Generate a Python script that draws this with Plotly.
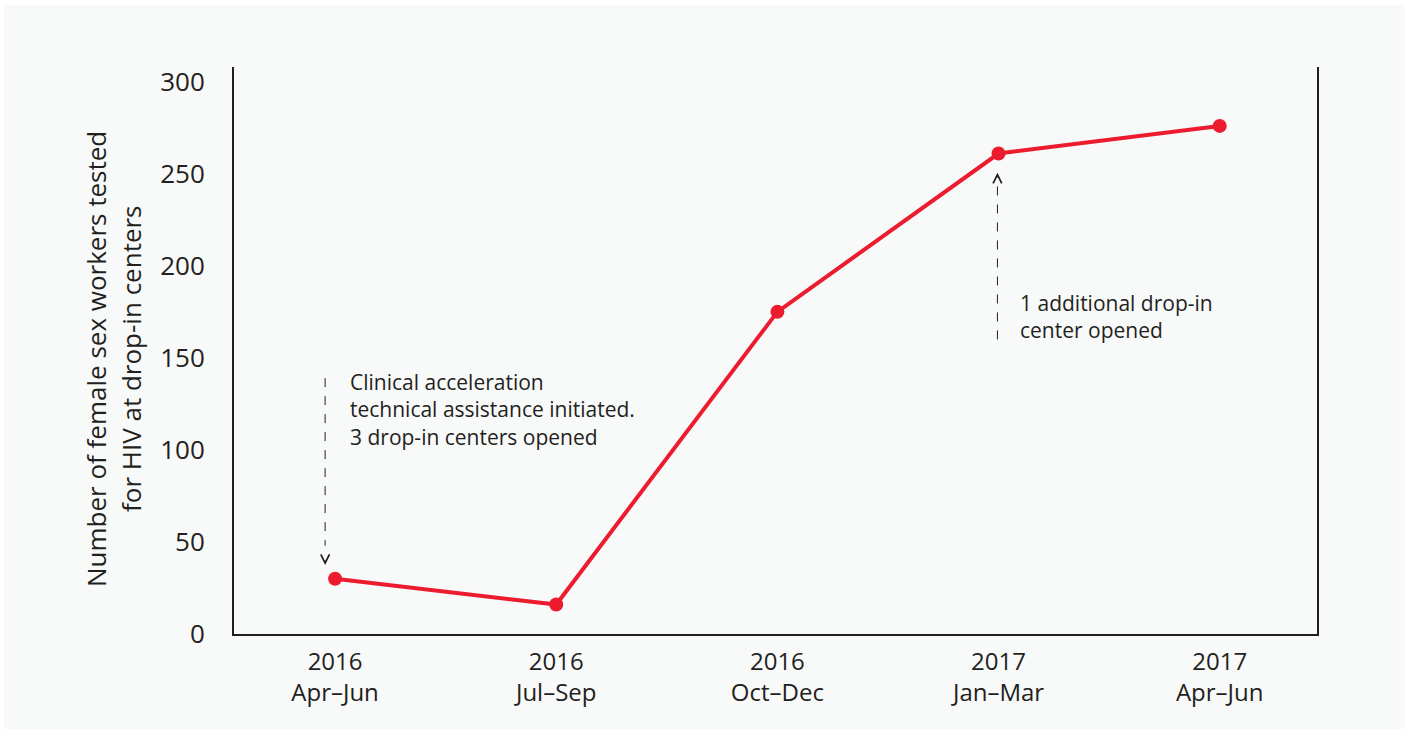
import plotly.graph_objects as go

periods = ["2016<br>Apr–Jun", "2016<br>Jul–Sep", "2016<br>Oct–Dec", "2017<br>Jan–Mar", "2017<br>Apr–Jun"]
tested = [30, 16, 175, 261, 276]
y_ticks = [0, 50, 100, 150, 200, 250, 300]

title_lines = ["Number of female sex workers tested", "for HIV at drop-in centers"]
note1 = "Clinical acceleration<br>technical assistance initiated.<br>3 drop-in centers opened"
note2 = "1 additional drop-in<br>center opened"

RED = "#ec1c2e"
INK = "#231f20"
BG = "#f8f9f9"
FONT = "Open Sans"

xs = list(range(len(periods)))

fig = go.Figure()
fig.add_trace(go.Scatter(
    x=xs, y=tested, mode="lines+markers",
    line=dict(color=RED, width=4),
    marker=dict(color=RED, size=14),
    showlegend=False, hoverinfo="skip",
))

W, H = 1405, 729
L, R, T, B = 234, 88, 67, 95
pw, ph = W - L - R, H - T - B

def px_to_paper_x(px):
    return (px - L) / pw

def px_to_paper_y(py):
    return (H - B - py) / ph

# background panel
fig.add_shape(type="rect", xref="paper", yref="paper",
              x0=px_to_paper_x(4), x1=px_to_paper_x(1410),
              y0=px_to_paper_y(735), y1=px_to_paper_y(5),
              fillcolor=BG, line=dict(width=0), layer="below")

# dashed annotation lines
fig.add_shape(type="line", xref="x", yref="y", x0=-0.045, x1=-0.045, y0=139, y1=48,
              line=dict(color=INK, width=1, dash="dash"))
fig.add_shape(type="line", xref="x", yref="y", x0=2.995, x1=2.995, y0=160, y1=244,
              line=dict(color=INK, width=1, dash="dash"))

# arrowheads
fig.add_annotation(x=-0.045, y=37.5, xref="x", yref="y", ax=0, ay=-6, showarrow=True,
                   arrowhead=5, arrowsize=1.7, arrowwidth=1, arrowcolor=INK, text="")
fig.add_annotation(x=2.995, y=250.5, xref="x", yref="y", ax=0, ay=6, showarrow=True,
                   arrowhead=5, arrowsize=1.7, arrowwidth=1, arrowcolor=INK, text="")

fig.add_annotation(x=0.059, y=145.5, xref="x", yref="y", xanchor="left", yanchor="top",
                   align="left", showarrow=False, text=note1,
                   font=dict(family=FONT, size=21, color=INK))
fig.add_annotation(x=3.086, y=188.5, xref="x", yref="y", xanchor="left", yanchor="top",
                   align="left", showarrow=False, text=note2,
                   font=dict(family=FONT, size=21, color=INK))

# y-axis title, one annotation per line
for line_text, cx in zip(title_lines, [96, 131]):
    fig.add_annotation(x=px_to_paper_x(cx), y=px_to_paper_y(359), xref="paper", yref="paper",
                       xanchor="center", yanchor="middle", textangle=-90, showarrow=False,
                       text=line_text, font=dict(family=FONT, size=26, color=INK))

fig.update_layout(
    width=W, height=H,
    margin=dict(l=L, r=R, t=T, b=B),
    paper_bgcolor="white", plot_bgcolor=BG,
    font=dict(family=FONT, color=INK),
    xaxis=dict(
        tickmode="array", tickvals=xs, ticktext=periods,
        range=[-0.457, 4.44], showgrid=False, zeroline=False,
        showline=True, linecolor=INK, linewidth=2, mirror=False,
        ticks="", ticklabelstandoff=5,
        tickfont=dict(family=FONT, size=24, color=INK),
    ),
    yaxis=dict(
        tickmode="array", tickvals=y_ticks,
        range=[0, 308], showgrid=False, zeroline=False,
        showline=True, linecolor=INK, linewidth=2,
        ticks="", ticklabelstandoff=22,
        tickfont=dict(family=FONT, size=26, color=INK),
    ),
    yaxis2=dict(overlaying="y", side="right", showline=True, linecolor=INK, linewidth=2,
                showticklabels=False, showgrid=False, zeroline=False, range=[0, 308]),
)
fig.add_trace(go.Scatter(x=[None], y=[None], yaxis="y2", showlegend=False, hoverinfo="skip"))

fig.write_html("out.html", config={"displayModeBar": False},
               post_script="document.body.style.margin='0';document.body.style.padding='0';")
